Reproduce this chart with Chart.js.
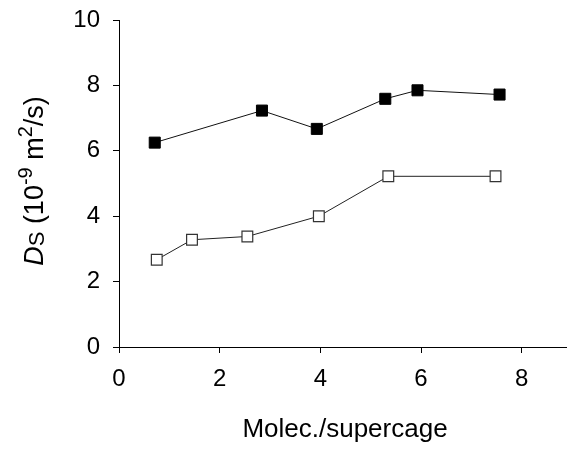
<!DOCTYPE html>
<html>
<head>
<meta charset="utf-8">
<script src="https://cdn.jsdelivr.net/npm/chart.js@4"></script>
<style>
  html, body { margin: 0; padding: 0; background: #fff; }
  #wrap { width: 567px; height: 450px; }
</style>
</head>
<body>
<div id="wrap"><canvas id="chart" width="567" height="450"></canvas></div>
<script>
// values
const filledX = [0.71, 2.84, 3.93, 5.29, 5.93, 7.56];
const filledY = [6.25, 7.23, 6.67, 7.59, 7.85, 7.72];
const openX = [0.75, 1.45, 2.55, 3.97, 5.35, 7.48];
const openY = [2.67, 3.28, 3.38, 4.00, 5.22, 5.22];
const xTicks = [0, 2, 4, 6, 8];
const yTicks = [0, 2, 4, 6, 8, 10];

const FONT = '"Liberation Sans", Arial, sans-serif';

function toPoints(xs, ys) {
    return xs.map((x, i) => ({ x: x, y: ys[i] }));
}

// axis titles drawn by hand, the y one needs italic / sub / superscripts
const titlePlugin = {
    id: 'titles',
    afterDraw(chart) {
        const ctx = chart.ctx;
        ctx.save();
        ctx.fillStyle = '#000';
        ctx.textBaseline = 'alphabetic';

        // x title
        ctx.font = '26px ' + FONT;
        ctx.textAlign = 'center';
        ctx.fillText('Molec./supercage', 345, 437);

        // y title, rotated
        const parts = [
            { t: 'D', f: 'italic 27px ' + FONT, dy: 0 },
            { t: 'S', f: '22px ' + FONT, dy: 1 },
            { t: ' (10', f: '27px ' + FONT, dy: 0 },
            { t: '-9', f: '20px ' + FONT, dy: -11 },
            { t: ' m', f: '27px ' + FONT, dy: 0 },
            { t: '2', f: '20px ' + FONT, dy: -11 },
            { t: '/s)', f: '27px ' + FONT, dy: 0 }
        ];
        ctx.textAlign = 'left';
        let total = 0;
        parts.forEach(p => { ctx.font = p.f; p.w = ctx.measureText(p.t).width; total += p.w; });
        ctx.translate(43, 181);
        ctx.rotate(-Math.PI / 2);
        let x = -total / 2;
        parts.forEach(p => {
            ctx.font = p.f;
            ctx.fillText(p.t, x, p.dy);
            x += p.w;
        });
        ctx.restore();
    }
};

new Chart(document.getElementById('chart').getContext('2d'), {
    type: 'scatter',
    data: {
        datasets: [{
            label: 'filled',
            data: toPoints(filledX, filledY),
            showLine: true,
            borderColor: '#111',
            borderWidth: 1,
            pointStyle: 'rect',
            pointRadius: 7.8,
            pointBackgroundColor: '#000',
            pointBorderColor: '#000',
            pointBorderWidth: 1
        }, {
            label: 'open',
            data: toPoints(openX, openY),
            showLine: true,
            borderColor: '#222',
            borderWidth: 1,
            pointStyle: 'rect',
            pointRadius: 7.6,
            pointBackgroundColor: '#fff',
            pointBorderColor: '#333',
            pointBorderWidth: 1.2
        }]
    },
    options: {
        responsive: false,
        animation: false,
        layout: { autoPadding: false, padding: { top: 20, right: 0, bottom: 0, left: 0 } },
        plugins: {
            legend: { display: false },
            tooltip: { enabled: false }
        },
        scales: {
            x: {
                type: 'linear',
                min: 0,
                max: 8.9,
                afterFit(scale) {
                    scale.height = 103;
                    scale.paddingLeft = 0;
                    scale.paddingRight = 0;
                },
                afterBuildTicks(scale) { scale.ticks = xTicks.map(v => ({ value: v })); },
                grid: { drawOnChartArea: false, drawTicks: true, tickLength: 6, color: '#000' },
                border: { display: true, color: '#000', width: 1 },
                ticks: {
                    color: '#000',
                    padding: 12,
                    maxRotation: 0,
                    font: { family: FONT, size: 24 }
                }
            },
            y: {
                min: 0,
                max: 10,
                afterFit(scale) {
                    scale.width = 119;
                    scale.paddingTop = 0;
                    scale.paddingBottom = 0;
                },
                afterBuildTicks(scale) { scale.ticks = yTicks.map(v => ({ value: v })); },
                grid: { drawOnChartArea: false, drawTicks: true, tickLength: 6, color: '#000' },
                border: { display: true, color: '#000', width: 1 },
                ticks: {
                    color: '#000',
                    padding: 13,
                    font: { family: FONT, size: 24 }
                }
            }
        }
    },
    plugins: [titlePlugin]
});
</script>
</body>
</html>
